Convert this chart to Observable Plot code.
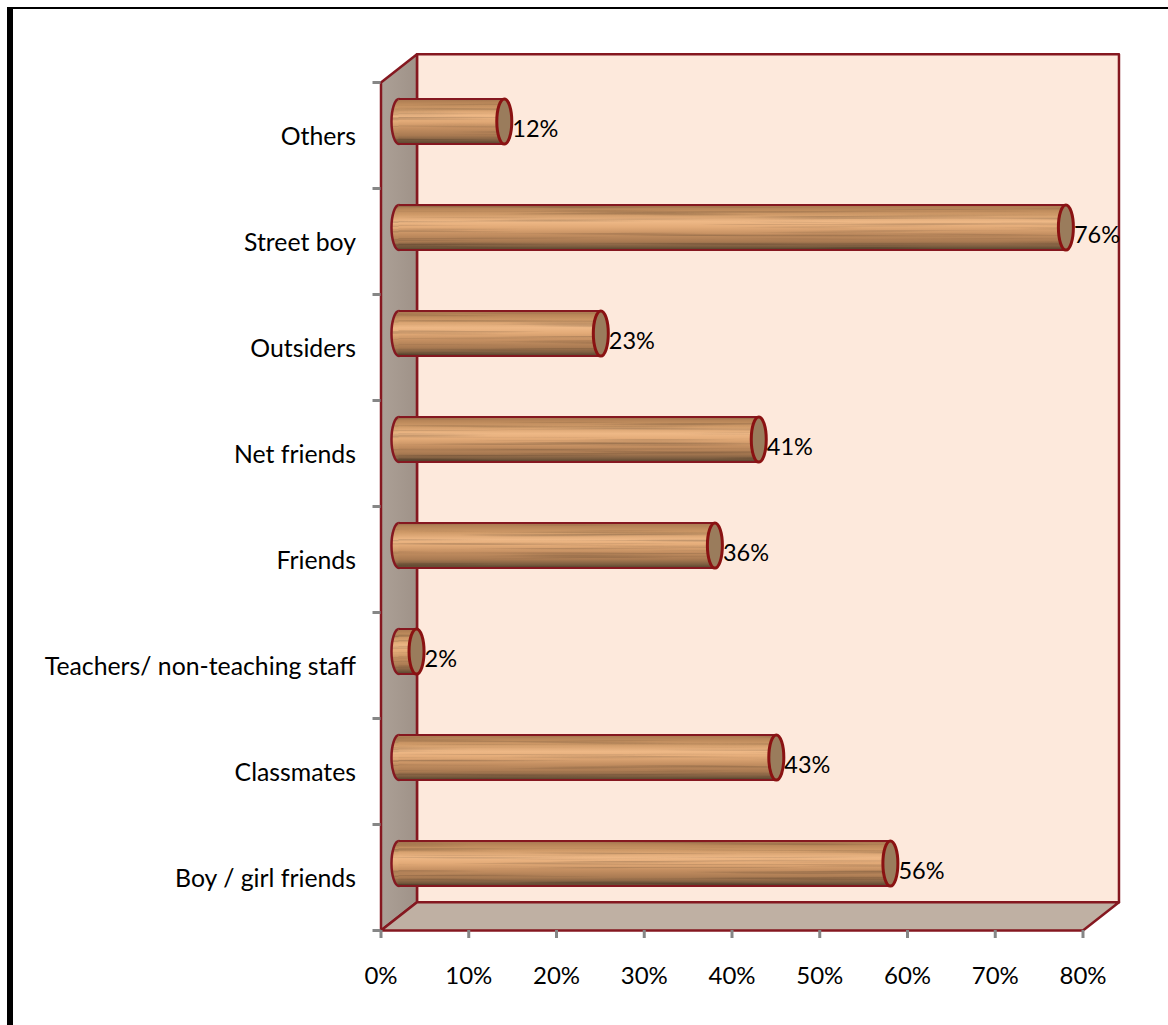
<!DOCTYPE html>
<html>
<head>
<meta charset="utf-8">
<script src="https://cdn.jsdelivr.net/npm/d3@7"></script>
<script src="https://cdn.jsdelivr.net/npm/@observablehq/plot@0.6"></script>
<style>
html,body{margin:0;padding:0;background:#fff;width:1168px;height:1025px;overflow:hidden}
#frame{position:absolute;left:7px;top:7px;right:0;bottom:0;border-left:6px solid #000;border-top:2.5px solid #000}
#chart{position:absolute;left:0;top:0}
</style>
</head>
<body>
<div id="frame"></div>
<div id="chart"></div>
<script>
const categories = ["Boy / girl friends","Classmates","Teachers/ non-teaching staff","Friends","Net friends","Outsiders","Street boy","Others"];
const values = [56,43,2,36,41,23,76,12];
const xTicks = [0,10,20,30,40,50,60,70,80];
const yTicks = [0,1,2,3,4,5,6,7,8];

const depthX = 4.1, depthY = 0.267;      // the 3D box depth, in data units
const shiftX = 2.05, shiftY = 0.132;     // bars sit halfway into the box
const halfBar = 0.2123;

const bars = categories.map((c,i)=>({c,v:values[i],y:i+0.5+shiftY,
  x0:shiftX,x1:values[i]+shiftX,y0:i+0.5+shiftY-halfBar,y1:i+0.5+shiftY+halfBar}));

const backWall = [[depthX,depthY],[80+depthX,depthY],[80+depthX,8+depthY],[depthX,8+depthY]];
const sideWall = [[0,0],[depthX,depthY],[depthX,8+depthY],[0,8]];
const floor = [[0,0],[80,0],[80+depthX,depthY],[depthX,depthY]];

const ellipse = {draw(ctx,size){
  const ry=Math.sqrt(size/Math.PI), rx=ry/3, k=0.5523;
  ctx.moveTo(-rx,0);
  ctx.bezierCurveTo(-rx,-ry*k,-rx*k,-ry,0,-ry);
  ctx.bezierCurveTo(rx*k,-ry,rx,-ry*k,rx,0);
  ctx.bezierCurveTo(rx,ry*k,rx*k,ry,0,ry);
  ctx.bezierCurveTo(-rx*k,ry,-rx,ry*k,-rx,0);
  ctx.closePath();
}};

function defs(){
  const d=d3.create("svg:defs");
  const g=d.append("linearGradient").attr("id","wood").attr("x1",0).attr("y1",0).attr("x2",0).attr("y2",1);
  [[0,"#a57650"],[0.1,"#b98759"],[0.22,"#cf9a68"],[0.38,"#eeb886"],[0.5,"#e3ab78"],[0.66,"#c48f61"],[0.82,"#a97a52"],[0.93,"#7d5d40"],[1,"#58452e"]]
    .forEach(([o,c])=>g.append("stop").attr("offset",o).attr("stop-color",c));
  const s=d.append("linearGradient").attr("id","side").attr("x1",0).attr("y1",0).attr("x2",1).attr("y2",0);
  s.append("stop").attr("offset",0).attr("stop-color","#aca096");
  s.append("stop").attr("offset",1).attr("stop-color","#9f9288");
  const f=d.append("filter").attr("id","grain").attr("x","0").attr("y","0").attr("width","1").attr("height","1")
    .attr("color-interpolation-filters","sRGB");
  f.append("feTurbulence").attr("type","fractalNoise").attr("baseFrequency","0.004 0.35").attr("numOctaves",2).attr("seed",7).attr("result","n");
  f.append("feColorMatrix").attr("in","n").attr("type","matrix")
    .attr("values","0.6 0 0 0 0.7  0.6 0 0 0 0.7  0.6 0 0 0 0.7  0 0 0 0 1").attr("result","g");
  f.append("feComposite").attr("in","SourceGraphic").attr("in2","g").attr("operator","arithmetic")
    .attr("k1",1).attr("k2",0).attr("k3",0).attr("k4",0);
  return d.node();
}

const edge="#851820";
const chart = Plot.plot({
  width:1168,height:1025,
  marginLeft:380.5,marginRight:85.5,marginTop:82,marginBottom:95,
  style:{fontFamily:"Lato, Carlito, sans-serif",fontSize:"24px",color:"#000",background:"transparent",overflow:"visible"},
  x:{domain:[0,80]},
  y:{domain:[0,8]},
  marks:[
    defs,
    Plot.line(backWall,{x:d=>d[0],y:d=>d[1],curve:"linear-closed",fill:"#fde9dc",stroke:edge,strokeWidth:2.5}),
    Plot.line(sideWall,{x:d=>d[0],y:d=>d[1],curve:"linear-closed",fill:"url(#side)",stroke:edge,strokeWidth:2.5}),
    Plot.line(floor,{x:d=>d[0],y:d=>d[1],curve:"linear-closed",fill:"#bfb0a3",stroke:edge,strokeWidth:2.5}),
    Plot.axisX({ticks:xTicks,tickSize:8,tickPadding:28,stroke:"#868686",strokeWidth:3,tickFormat:d=>d+"%",fontSize:24,fill:"#000",label:null}),
    Plot.axisY({ticks:yTicks,tickSize:8,stroke:"#868686",strokeWidth:3,tickFormat:()=>"",label:null}),
    Plot.dot(bars,{x:"x0",y:"y",r:22.5,symbol:ellipse,fill:"url(#wood)",imageFilter:"url(#grain)"}),
    Plot.dot(bars,{x:"x0",y:"y",r:22.5,symbol:ellipse,fill:"none",stroke:edge,strokeWidth:2.5}),
    Plot.rect(bars,{x1:"x0",x2:"x1",y1:"y0",y2:"y1",fill:"url(#wood)",imageFilter:"url(#grain)"}),
    Plot.ruleY(bars,{y:"y0",x1:"x0",x2:"x1",stroke:edge,strokeWidth:2}),
    Plot.ruleY(bars,{y:"y1",x1:"x0",x2:"x1",stroke:edge,strokeWidth:2}),
    Plot.dot(bars,{x:"x1",y:"y",r:22.5,symbol:ellipse,fill:"#9a7c5c",stroke:"#8a1212",strokeWidth:3}),
    Plot.text(bars,{x:"x1",y:"y",text:d=>d.v+"%",dx:8,dy:7.5,textAnchor:"start",fontSize:23.5,fill:"#000"}),
    Plot.text(categories,{x:()=>0,y:(d,i)=>i+0.5,text:d=>d,dx:-25,dy:2,textAnchor:"end",fontSize:24.8,fill:"#000"})
  ]
});
document.getElementById("chart").append(chart);
</script>
</body>
</html>
